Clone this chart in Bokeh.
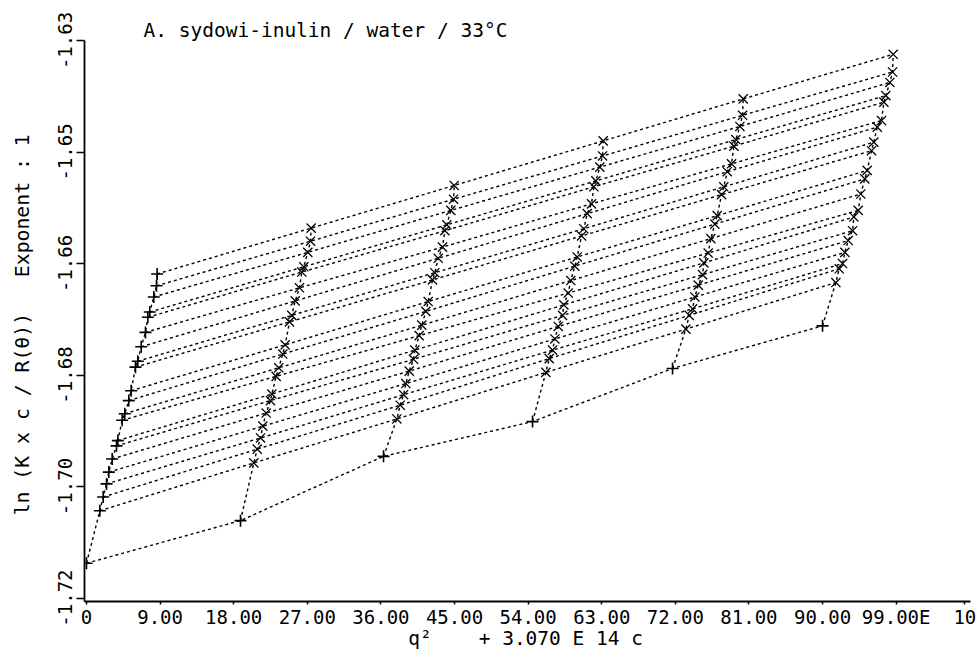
import math
from bokeh.plotting import figure
from bokeh.models import FixedTicker, Range1d, Label
from bokeh.embed import file_html
from bokeh.resources import INLINE

# q^2 of the 20 scattering angles (highest angle first), units of 1E10
q2 = [8.64, 8.56, 8.23, 7.74, 7.50, 7.21, 6.69, 6.27, 5.99, 5.46,
      5.17, 4.68, 4.36, 3.83, 3.67, 3.14, 2.73, 2.45, 2.04, 1.63]
# 3.070E14 * c of the five concentrations, units of 1E10
kc = [18.83, 36.32, 54.54, 71.66, 90.00]

# extrapolated c -> 0 values for every angle
y_c0 = [-1.6657, -1.6675, -1.6692, -1.6715, -1.6723, -1.6746, -1.6768, -1.6790, -1.6799, -1.6835,
        -1.6850, -1.6870, -1.6880, -1.6911, -1.6919, -1.6939, -1.6959, -1.6977, -1.6997, -1.7018]

# measured ln(K c / R(theta)); one row per angle, one column per concentration
y_meas = [
    [-1.6587, -1.6522, -1.6454, -1.6390, -1.6322],
    [-1.6607, -1.6543, -1.6477, -1.6415, -1.6349],
    [-1.6624, -1.6560, -1.6494, -1.6432, -1.6365],
    [-1.6646, -1.6582, -1.6515, -1.6452, -1.6385],
    [-1.6654, -1.6591, -1.6524, -1.6462, -1.6395],
    [-1.6678, -1.6616, -1.6550, -1.6489, -1.6423],
    [-1.6698, -1.6633, -1.6565, -1.6501, -1.6433],
    [-1.6720, -1.6655, -1.6588, -1.6524, -1.6456],
    [-1.6730, -1.6666, -1.6599, -1.6536, -1.6469],
    [-1.6765, -1.6699, -1.6631, -1.6568, -1.6499],
    [-1.6779, -1.6714, -1.6645, -1.6581, -1.6512],
    [-1.6800, -1.6735, -1.6667, -1.6603, -1.6535],
    [-1.6813, -1.6751, -1.6686, -1.6625, -1.6560],
    [-1.6840, -1.6773, -1.6704, -1.6640, -1.6570],
    [-1.6850, -1.6787, -1.6720, -1.6658, -1.6591],
    [-1.6869, -1.6805, -1.6737, -1.6674, -1.6606],
    [-1.6889, -1.6824, -1.6756, -1.6692, -1.6624],
    [-1.6907, -1.6841, -1.6773, -1.6710, -1.6641],
    [-1.6924, -1.6857, -1.6786, -1.6720, -1.6649],
    [-1.6945, -1.6878, -1.6807, -1.6741, -1.6670],
]

# extrapolated theta -> 0 values for every concentration
y_q0 = [-1.7033, -1.6935, -1.6882, -1.6801, -1.6736]
# double extrapolation c -> 0, theta -> 0
y_00 = -1.7098

x_ticks = [0, 9, 18, 27, 36, 45, 54, 63, 72, 81, 90, 99, 107.4]
x_tick_labels = ["0", "9.00", "18.00", "27.00", "36.00", "45.00", "54.00",
                 "63.00", "72.00", "81.00", "90.00", "99.00E", "10"]
y_ticks = [-1.7151, -1.6981, -1.6811, -1.6641, -1.6471, -1.6301]
y_tick_labels = ["-1.72", "-1.70", "-1.68", "-1.66", "-1.65", "-1.63"]

NB = "\u00a0"
title_text = "A. sydowi-inulin / water / 33\u00b0C"
x_label = "q\u00b2" + NB * 4 + "+ 3.070 E 14 c" + NB
y_label = "ln (K x c / R(\u03b8))" + NB * 3 + "Exponent : 1" + NB * 4

FONT = "DejaVu Sans Mono"
DASH = "3 3"
LW = 1.4

# axis extents (the drawn axis lines) and the wider plotting frame
X_AX = (-0.2446, 108.1)
Y_AX = (-1.71563, -1.6301)

p = figure(width=978, height=653, title=None,
           x_range=Range1d(-0.2446, 109.07), y_range=Range1d(-1.71563, -1.6240),
           output_backend="svg", toolbar_location=None,
           min_border_left=84, min_border_right=0, min_border_top=0, min_border_bottom=52)
p.outline_line_color = None
p.grid.visible = False
p.background_fill_color = "white"

# lines of constant angle (c = 0 point + measured points)
for i in range(len(q2)):
    xs = [q2[i]] + [q2[i] + k for k in kc]
    ys = [y_c0[i]] + y_meas[i]
    p.line(xs, ys, line_color="black", line_width=LW, line_dash=DASH)

# lines of constant concentration (theta = 0 point + measured points, low angle first)
order = list(range(len(q2)))[::-1]
for j in range(len(kc)):
    xs = [kc[j]] + [q2[i] + kc[j] for i in order]
    ys = [y_q0[j]] + [y_meas[i][j] for i in order]
    p.line(xs, ys, line_color="black", line_width=LW, line_dash=DASH)

# c = 0 line and theta = 0 line
p.line([0] + [q2[i] for i in order], [y_00] + [y_c0[i] for i in order],
       line_color="black", line_width=LW, line_dash=DASH)
p.line([0] + kc, [y_00] + y_q0, line_color="black", line_width=LW, line_dash=DASH)

# measured points (x)
mx, my = [], []
for i in range(len(q2)):
    for j in range(len(kc)):
        mx.append(q2[i] + kc[j])
        my.append(y_meas[i][j])
p.scatter(mx, my, marker="x", size=13, line_color="black", line_width=1.3)

# extrapolated points (+)
ex = [0] + q2 + kc
ey = [y_00] + y_c0 + y_q0
p.scatter(ex, ey, marker="cross", size=12, line_color="black", line_width=1.6)

# axes
p.xaxis.bounds = X_AX
p.yaxis.bounds = Y_AX
p.xaxis.ticker = FixedTicker(ticks=x_ticks)
p.xaxis.major_label_overrides = {t: s for t, s in zip(x_ticks, x_tick_labels)}
p.yaxis.ticker = FixedTicker(ticks=y_ticks)
p.yaxis.major_label_overrides = {t: s for t, s in zip(y_ticks, y_tick_labels)}
p.yaxis.major_label_orientation = "vertical"

for ax in (p.xaxis[0], p.yaxis[0]):
    ax.axis_line_color = "black"
    ax.axis_line_width = 1.8
    ax.major_tick_line_color = "black"
    ax.major_tick_line_width = 1.5
    ax.minor_tick_line_color = None
    ax.major_tick_in = 0
    ax.major_label_text_font = FONT
    ax.major_label_text_font_size = "19px"
    ax.major_label_text_color = "black"
    ax.axis_label_text_font = FONT
    ax.axis_label_text_font_style = "normal"
    ax.axis_label_text_color = "black"

p.xaxis.major_tick_out = 3
p.xaxis.major_label_standoff = 1
p.xaxis.axis_label = x_label
p.xaxis.axis_label_text_font_size = "19.5px"
p.xaxis.axis_label_standoff = -4

p.yaxis.major_tick_out = 8
p.yaxis.major_label_standoff = 4
p.yaxis.axis_label = y_label
p.yaxis.axis_label_text_font_size = "19.8px"
p.yaxis.axis_label_standoff = 22

# title
p.add_layout(Label(x=6.97, y=-1.6285, text=title_text, text_align="left",
                   text_baseline="alphabetic", text_font=FONT, text_font_size="19.5px",
                   text_color="black"))

open("out.html", "w").write(file_html(p, INLINE))
